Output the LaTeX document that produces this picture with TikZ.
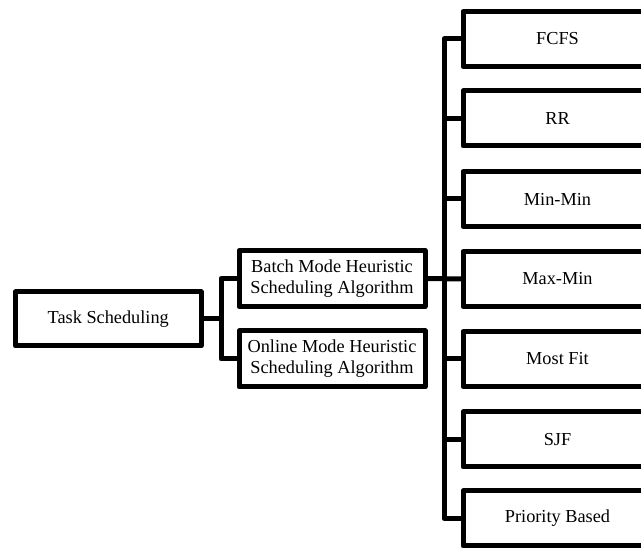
\documentclass[tikz,border=0pt]{standalone}
\usepackage{fontspec}
\setmainfont{Liberation Serif}
\begin{document}
\begin{tikzpicture}[x=1pt,y=-1pt,
  box/.style={draw=black,line width=5pt,line join=round,inner sep=0pt,outer sep=0pt,
    font=\fontsize{18.3}{21}\selectfont,align=center},
  rbox/.style={box,minimum width=189pt,minimum height=55pt},
  mbox/.style={box,minimum width=186pt,minimum height=56pt},
  conn/.style={draw=black,line width=5pt,line join=round}]
\useasboundingbox (0,0) rectangle (641,548);
\clip (0,0) rectangle (641,548);
\node[box,minimum width=185.5pt,minimum height=54pt] (task) at (108.25,319) {Task Scheduling};
\node[mbox] (batch) at (332,278.5) {Batch Mode Heuristic\\Scheduling Algorithm};
\node[mbox] (online) at (332,359) {Online Mode Heuristic\\Scheduling Algorithm};
\node[rbox] (fcfs) at (557.5,39) {FCFS};
\node[rbox] (rr) at (557.5,118.5) {RR};
\node[rbox] (minmin) at (557.5,199) {Min-Min};
\node[rbox] (maxmin) at (557.5,279) {Max-Min};
\node[rbox] (mostfit) at (557.5,359) {Most Fit};
\node[rbox] (sjf) at (557.5,439.5) {SJF};
\node[rbox] (prio) at (557.5,518.5) {Priority Based};
\coordinate (jl) at (221,319);
\coordinate (jr) at (444,279);
\draw[conn] (task.east) -- (jl);
\draw[conn] (batch.west) -| (jl) |- (online.west);
\draw[conn] (batch.east) -- (maxmin.west);
\draw[conn] (fcfs.west) -| (jr) |- (prio.west);
\draw[conn] (rr.west) -- (rr.west -| jr);
\draw[conn] (minmin.west) -- (minmin.west -| jr);
\draw[conn] (mostfit.west) -- (mostfit.west -| jr);
\draw[conn] (sjf.west) -- (sjf.west -| jr);
\end{tikzpicture}
\end{document}
